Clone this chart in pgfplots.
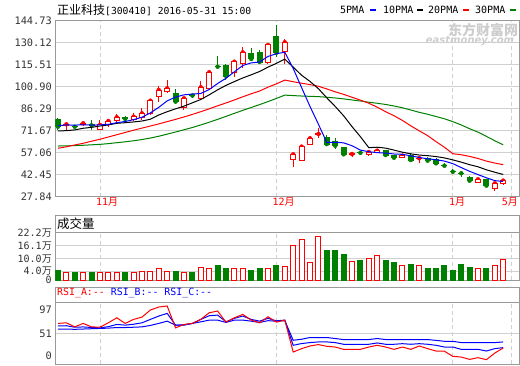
\documentclass[border=0pt]{standalone}
\usepackage{fontspec}
\setmainfont{DejaVu Sans Mono}
\newfontfamily\cjk{Noto Sans CJK SC}
\newfontfamily\wmfont{DejaVu Sans}
\usepackage{pgfplots}
\usepackage{pgfplotstable}
\pgfplotsset{compat=1.18}
\definecolor{framegray}{HTML}{999999}
\definecolor{gridgray}{HTML}{D0D0D0}
\definecolor{labgray}{HTML}{333333}
\definecolor{upred}{HTML}{FF0000}
\definecolor{dngreen}{HTML}{008000}
\definecolor{wmgray}{HTML}{CDCDCD}

% i open high low close volume(10k)
\pgfplotstableread{
i o h l c v
1 74.8 76.1 72.2 75.9 3.75
3 75.5 77.2 74.7 76.6 3.3
5 72.8 78.8 72.2 75.5 3.3
6 75.5 78.8 74.2 78.1 3.75
7 78.3 82.5 77.5 80.6 3.75
9 79.3 83.6 78.1 81.0 3.75
10 80.6 86.7 78.8 83.2 4.2
11 82.8 92.1 82.1 91.6 4.2
12 94.2 101.4 91.0 98.7 5.2
13 97.6 105.4 96.5 99.8 4.2
15 87.2 93.9 85.4 93.2 3.3
17 93.2 104.9 92.5 100.5 6.0
18 99.8 110.5 99.2 110.5 5.6
21 110.2 118.0 107.6 117.5 5.2
22 116.4 127.5 113.1 123.7 5.2
25 116.8 129.5 116.0 128.6 5.2
27 124.1 132.4 115.9 130.4 6.2
28 52.7 56.7 47.8 56.0 16.3
29 52.2 62.4 51.3 61.1 18.8
30 62.8 68.3 62.1 66.6 8.4
31 69.3 73.3 66.6 69.5 20.2
35 56.0 57.1 54.0 56.2 8.9
37 56.0 58.2 55.0 57.5 10.3
38 57.1 58.9 56.7 58.4 11.3
41 54.0 55.5 53.7 55.1 6.9
43 53.2 54.5 50.1 53.4 6.9
50 37.4 40.2 36.9 39.4 5.5
52 33.0 37.1 31.6 36.7 6.9
53 36.8 39.6 35.6 38.5 9.8
}\redtab

\pgfplotstableread{
i o h l c v
0 78.8 79.9 72.2 74.3 4.5
2 74.6 75.5 73.3 74.3 3.3
4 75.5 78.8 72.2 75.2 3.3
8 80.6 81.3 78.1 79.5 3.75
14 96.5 99.2 90.3 91.0 4.2
16 95.5 96.5 93.2 95.0 3.3
19 114.5 121.3 112.4 114.2 7.0
20 114.8 115.8 105.4 108.0 5.3
23 123.1 126.4 118.6 119.3 4.4
24 123.9 125.3 116.6 117.3 5.6
26 134.1 141.9 120.4 123.5 6.6
32 67.3 68.8 62.2 62.8 13.7
33 64.8 66.6 59.3 61.7 13.7
34 60.7 60.7 56.0 56.0 11.9
36 57.2 57.4 56.2 57.0 9.1
39 58.2 58.8 54.5 55.5 9.1
40 55.1 55.7 53.3 53.7 8.0
42 55.5 56.9 51.5 52.2 7.5
44 53.4 54.0 51.1 51.8 5.6
45 52.7 53.4 49.6 50.0 5.6
46 48.6 50.0 47.4 48.4 6.6
47 44.6 46.0 42.9 44.4 4.4
48 43.5 44.9 41.1 43.4 7.5
49 40.7 41.6 37.8 38.5 6.1
51 39.0 39.0 35.2 35.2 5.6
}\greentab

\pgfplotstableread{
i m5 m10 m20 m30
0 75.0 71.5 60.0 61.5
1 75.5 71.7 61.0 61.6
2 75.4 72.2 62.2 61.8
3 75.6 73.3 63.3 62.0
4 75.4 73.9 64.7 62.3
5 75.5 74.8 66.0 62.6
6 75.9 75.5 67.5 63.1
7 77.0 76.6 69.0 63.7
8 77.8 77.0 70.5 64.3
9 79.0 77.5 72.0 65.0
10 80.6 78.1 73.4 65.8
11 83.5 79.3 74.8 66.8
12 87.2 82.1 76.2 68.0
13 91.5 84.3 77.7 69.4
14 94.0 86.2 79.2 70.8
15 95.5 88.0 80.8 72.3
16 96.0 90.2 82.5 73.8
17 96.4 92.4 84.3 75.5
18 99.0 95.5 86.2 77.3
19 103.0 98.8 88.2 79.2
20 106.5 101.8 90.1 81.2
21 110.8 104.3 92.1 83.2
22 115.0 106.7 94.2 85.2
23 116.7 108.8 96.2 87.1
24 117.3 111.0 98.0 89.0
25 121.0 113.9 100.6 91.0
26 122.8 116.4 102.8 93.1
27 123.8 119.2 105.3 95.3
28 113.0 113.9 104.2 95.0
29 100.3 108.5 103.2 94.7
30 87.8 104.4 102.3 94.5
31 76.0 99.6 101.2 94.3
32 63.8 93.5 99.4 93.9
33 64.0 87.8 97.5 93.4
34 63.6 81.6 95.8 92.8
35 61.7 74.4 93.9 92.1
36 58.8 67.7 92.0 91.4
37 57.7 60.4 89.9 90.6
38 57.1 60.7 87.3 89.9
39 56.8 60.1 84.3 89.1
40 56.2 58.8 81.6 88.1
41 56.0 57.4 78.5 86.9
42 55.0 56.3 74.9 85.4
43 53.9 55.5 71.6 83.9
44 53.0 55.1 68.4 82.6
45 52.4 54.5 64.4 81.1
46 51.5 53.6 60.7 79.6
47 49.8 52.3 56.4 77.7
48 47.2 50.8 55.7 75.5
49 44.7 49.1 54.6 73.0
50 42.5 47.7 53.2 70.7
51 40.4 45.7 51.5 67.9
52 38.5 44.1 50.2 65.0
53 38.0 42.6 49.1 62.3
}\matab

\pgfplotstableread{
i a b cc
0 67.9 63.8 58.5
1 68.9 64.0 58.5
2 62.1 61.5 58.0
3 67.9 62.0 58.5
4 62.1 61.1 59.0
5 61.6 60.4 59.5
6 68.9 62.5 60.0
7 77.3 66.2 61.0
8 67.9 65.0 61.0
9 74.6 66.5 61.5
10 78.5 68.9 62.1
11 90.3 74.6 64.5
12 95.3 80.2 67.9
13 97.0 84.7 71.7
14 60.4 65.0 65.0
15 66.2 65.0 65.5
16 67.9 67.9 67.9
17 74.6 74.6 70.5
18 85.7 80.7 73.4
19 88.6 81.8 73.4
20 70.0 70.6 69.5
21 77.3 76.3 73.4
22 83.0 80.2 73.4
23 73.4 74.6 71.7
24 68.9 71.7 69.5
25 79.0 76.3 72.5
26 70.0 72.2 71.5
27 73.4 73.4 72.5
28 20.0 31.3 39.7
29 25.7 34.2 41.4
30 30.1 35.8 44.3
31 32.5 36.9 44.3
32 29.6 36.9 44.3
33 28.4 35.8 42.6
34 24.5 33.0 40.9
35 24.5 33.0 40.9
36 24.5 33.0 40.9
37 28.4 33.0 40.9
38 31.3 35.2 42.6
39 28.4 33.0 40.9
40 24.5 33.0 40.9
41 28.4 34.0 40.9
42 24.5 33.0 40.9
43 30.1 34.0 40.9
44 25.7 33.0 40.9
45 21.7 31.3 39.5
46 21.4 28.4 38.0
47 12.8 28.4 38.0
48 11.6 24.5 35.8
49 7.7 24.5 35.8
50 10.6 24.5 35.8
51 7.2 21.7 35.8
52 18.3 25.7 35.8
53 26.7 27.4 36.9
}\rsitab

\pgfplotsset{
  base/.style={scale only axis, width=463.7pt, xmin=-0.32, xmax=54.88, clip=true},
  panel/.style={base,
    axis line style={framegray, line width=1pt},
    xtick={5,26,47,54}, xticklabels={},
    xmajorgrids, ymajorgrids,
    x grid style={gridgray, dash pattern=on 4pt off 3pt, line width=0.8pt},
    y grid style={gridgray, line width=0.8pt},
    major tick length=0pt, tick style={draw=none},
    tick label style={font=\fontsize{10.3}{12}\selectfont, text=labgray}},
  ovl/.style={base, hide axis},
}

\begin{document}
\begin{tikzpicture}
\path[use as bounding box] (0,0) rectangle (520pt,365pt);

% watermark
\node[text=wmgray, font=\cjk\bfseries\fontsize{14}{14}\selectfont] at (483pt,335pt) {东方财富网};
\node[text=wmgray, font=\wmfont\bfseries\itshape\fontsize{10}{10}\selectfont] at (470pt,323.5pt) {eastmoney.com};

% ---------- main panel: frame, grid, wicks ----------
\begin{axis}[panel, at={(55.3pt,168.3pt)}, anchor=south west, height=176pt,
  ymin=27.84, ymax=144.73,
  ytick={27.84,42.45,57.06,71.67,86.29,100.90,115.51,130.12,144.73},
  yticklabels={27.84,42.45,57.06,71.67,86.29,100.90,115.51,130.12,144.73},
  xticklabels={11{\cjk 月},12{\cjk 月},1{\cjk 月},\hspace*{-6pt}5{\cjk 月}},
  xticklabel style={font=\fontsize{10}{12}\selectfont, text=upred, anchor=north west, xshift=-5pt, inner sep=1pt}]
\addplot[upred, only marks, mark=none,
  error bars/y dir=both, error bars/y explicit, error bars/error mark=none,
  error bars/error bar style={upred, line width=1pt}]
  table[x=i, y=c, y error plus expr=\thisrow{h}-\thisrow{c}, y error minus expr=\thisrow{c}-\thisrow{l}] {\redtab};
\addplot[dngreen, only marks, mark=none,
  error bars/y dir=both, error bars/y explicit, error bars/error mark=none,
  error bars/error bar style={dngreen, line width=1pt}]
  table[x=i, y=c, y error plus expr=\thisrow{h}-\thisrow{c}, y error minus expr=\thisrow{c}-\thisrow{l}] {\greentab};
\end{axis}

% red bodies
\begin{axis}[ovl, at={(55.3pt,168.3pt)}, anchor=south west, height=176pt,
  ymin=27.84, ymax=144.73, ybar stacked, bar width=5pt]
\addplot[draw=none, fill=none] table[x=i, y expr={min(\thisrow{o},\thisrow{c})}] {\redtab};
\addplot[draw=upred, fill=white, line width=1pt] table[x=i, y expr={abs(\thisrow{c}-\thisrow{o})}] {\redtab};
\end{axis}

% green bodies
\begin{axis}[ovl, at={(55.3pt,168.3pt)}, anchor=south west, height=176pt,
  ymin=27.84, ymax=144.73, ybar stacked, bar width=5pt]
\addplot[draw=none, fill=none] table[x=i, y expr={min(\thisrow{o},\thisrow{c})}] {\greentab};
\addplot[draw=dngreen, fill=dngreen, line width=1pt] table[x=i, y expr={abs(\thisrow{c}-\thisrow{o})}] {\greentab};
\end{axis}

% moving averages
\begin{axis}[ovl, at={(55.3pt,168.3pt)}, anchor=south west, height=176pt,
  ymin=27.84, ymax=144.73]
\addplot[dngreen, line width=1pt] table[x=i, y=m30] {\matab};
\addplot[upred, line width=1pt] table[x=i, y=m20] {\matab};
\addplot[black, line width=1pt] table[x=i, y=m10] {\matab};
\addplot[blue, line width=1pt] table[x=i, y=m5] {\matab};
\end{axis}

% title and legend
\node[anchor=west, inner sep=0pt] at (57pt,355pt)
  {{\cjk\fontsize{12}{12}\selectfont 正业科技}{\fontsize{9.7}{12}\selectfont[300410] 2016-05-31 15:00}};
\begin{scope}[every node/.style={anchor=west, inner sep=0pt, font=\fontsize{10}{12}\selectfont}]
\node at (340pt,355pt) {5PMA};
\fill[blue] (369.5pt,353.9pt) rectangle (375.5pt,356.3pt);
\node at (383pt,355pt) {10PMA};
\fill[black] (416.5pt,353.9pt) rectangle (422.5pt,356.3pt);
\node at (428pt,355pt) {20PMA};
\fill[upred] (462.5pt,353.9pt) rectangle (468.5pt,356.3pt);
\node at (475pt,355pt) {30PMA};
\fill[dngreen] (509.5pt,353.9pt) rectangle (515.5pt,356.3pt);
\end{scope}

% ---------- volume panel ----------
\draw[framegray, line width=1pt] (55.3pt,132.3pt) -- (55.3pt,150pt) -- (519pt,150pt) -- (519pt,132.3pt);
\node[anchor=west, inner sep=0pt] at (57pt,141.7pt) {\cjk\fontsize{12.5}{12}\selectfont 成交量};
\begin{axis}[panel, at={(55.3pt,85pt)}, anchor=south west, height=47.3pt,
  ymin=0, ymax=22.2, ytick={0,4,10,16.1,22.2},
  yticklabels={0,4.0{\cjk 万},10.0{\cjk 万},16.1{\cjk 万},22.2{\cjk 万}},
  yticklabel style={font=\fontsize{10}{10}\selectfont}]
\addplot[ybar, bar width=5pt, bar shift=0pt, draw=upred, fill=white, line width=1pt] table[x=i, y=v] {\redtab};
\addplot[ybar, bar width=5pt, bar shift=0pt, draw=dngreen, fill=dngreen, line width=1pt] table[x=i, y=v] {\greentab};
\end{axis}

% ---------- RSI panel ----------
\draw[framegray, line width=1pt] (55.3pt,62.7pt) -- (55.3pt,77.7pt) -- (519pt,77.7pt) -- (519pt,62.7pt);
\node[anchor=west, inner sep=0pt, font=\fontsize{9.9}{12}\selectfont] at (57pt,72.3pt)
  {\textcolor{upred}{RSI\_A:-{}-} \textcolor{blue}{RSI\_B:-{}- RSI\_C:-{}-}};
\begin{axis}[panel, at={(55.3pt,1pt)}, anchor=south west, height=61.7pt,
  ymin=0, ymax=103.2, ytick={51}, yticklabels={51},
  extra y ticks={97}, extra y tick labels={97},
  extra y tick style={grid=none, yticklabel style={yshift=-3.7pt}}, clip=false]
\addplot[blue, line width=1pt] table[x=i, y=cc] {\rsitab};
\addplot[blue, line width=1pt] table[x=i, y=b] {\rsitab};
\addplot[upred, line width=1pt] table[x=i, y=a] {\rsitab};
\node[anchor=east, text=labgray, font=\fontsize{10.3}{12}\selectfont, yshift=8.6pt] at (axis cs:-0.32,0) {0};
\end{axis}
\end{tikzpicture}
\end{document}
